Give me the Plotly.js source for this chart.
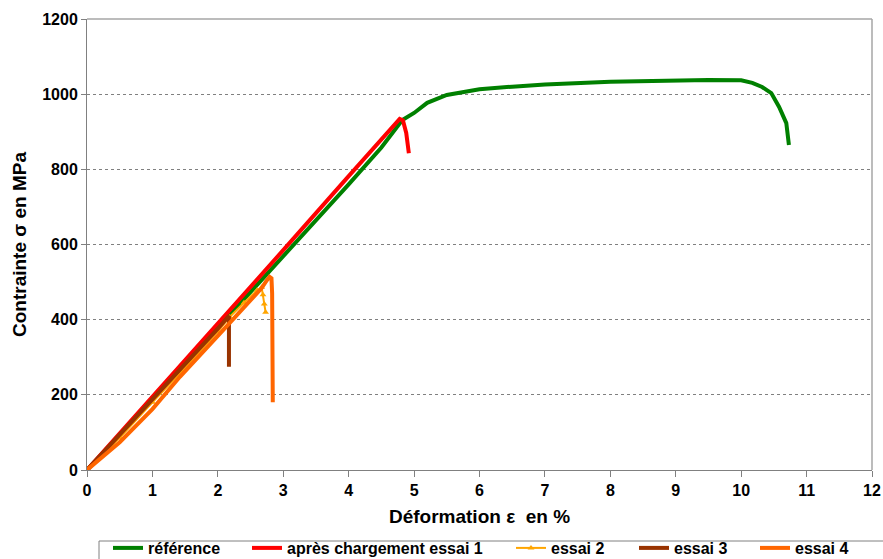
<!DOCTYPE html>
<html>
<head>
<meta charset="utf-8">
<script src="https://cdn.plot.ly/plotly-3.0.1.min.js"></script>
<style>html,body{margin:0;padding:0;background:#fff;}#chart{width:883px;height:559px;}</style>
</head>
<body>
<div id="chart"></div>
<script>
// Strain (%) and stress (MPa)
const refX   = [0, 0.5, 1, 2, 3, 4, 4.5, 4.82, 5.0, 5.2, 5.5, 5.8, 6.0, 6.5, 7.0, 8.0, 9.0, 9.5, 10.0, 10.17, 10.32, 10.46, 10.58, 10.69, 10.73];
const refY   = [0, 92, 186, 378, 568, 760, 858, 931, 950, 977, 998, 1007, 1013, 1020, 1026, 1033, 1037, 1038, 1037, 1030, 1019, 1003, 966, 923, 865];

const essai1X = [0, 0.5, 1, 2, 3, 4, 4.5, 4.7, 4.78, 4.83, 4.88, 4.92];
const essai1Y = [0, 97, 194, 390, 585, 782, 878, 918, 934, 930, 897, 843];

const essai2X = [0, 0.5, 1, 1.5, 2, 2.18, 2.4, 2.6, 2.67, 2.69, 2.71, 2.73];
const essai2Y = [0, 86, 180, 272, 368, 407, 445, 478, 486, 466, 442, 420];

const essai3X = [0, 0.24, 0.5, 1, 1.42, 2, 2.17, 2.17];
const essai3Y = [0, 45, 92, 186, 266, 376, 410, 275];

const essai4X = [0, 0.2, 0.4, 0.5, 1, 1.42, 2, 2.5, 2.67, 2.75, 2.79, 2.82, 2.83, 2.84];
const essai4Y = [0, 31, 62, 74, 162, 248, 357, 452, 484, 505, 514, 510, 470, 180];

const names  = ["référence", "après chargement essai 1", "essai 2", "essai 3", "essai 4"];
const colors = ["#008000", "#FF0000", "#FFA500", "#993300", "#FF6600"];

const X_TICKS = [0,1,2,3,4,5,6,7,8,9,10,11,12];
const Y_TICKS = [0,200,400,600,800,1000,1200];

const FONT = "Liberation Sans, Arial, sans-serif";
const W = 883, H = 559;

// legend text start pixels (x) for each entry
const legTextPix = [148, 287, 551, 674, 795];
const legBoxTop = 541;
const legItemsTop = 531;
const plotL = 87, plotW = 785;
const legendKeys = ["legend", "legend2", "legend3", "legend4", "legend5"];

const data = [
  {x: refX, y: refY, name: names[0], mode: "lines", line: {color: colors[0], width: 4}, legend: legendKeys[0]},
  {x: essai1X, y: essai1Y, name: names[1], mode: "lines", line: {color: colors[1], width: 4}, legend: legendKeys[1]},
  {x: essai2X, y: essai2Y, name: names[2], mode: "lines+markers", line: {color: colors[2], width: 2}, marker: {symbol: "triangle-up", size: 6, color: colors[2]}, legend: legendKeys[2]},
  {x: essai3X, y: essai3Y, name: names[3], mode: "lines", line: {color: colors[3], width: 4}, legend: legendKeys[3]},
  {x: essai4X, y: essai4Y, name: names[4], mode: "lines", line: {color: colors[4], width: 4}, legend: legendKeys[4]}
];

const layout = {
  width: W, height: H,
  margin: {l: plotL, r: 11, t: 19, b: 89},
  paper_bgcolor: "#ffffff", plot_bgcolor: "#ffffff",
  font: {family: FONT, size: 16, color: "#000"},
  showlegend: true,
  xaxis: {
    range: [0, 12], tickvals: X_TICKS, ticktext: X_TICKS.map(String),
    ticks: "outside", ticklen: 6, tickcolor: "#808080", tickwidth: 1,
    showline: true, linecolor: "#808080", linewidth: 1,
    showgrid: false, zeroline: false,
    tickfont: {family: FONT, size: 16, color: "#000", weight: "bold"},
    title: {text: "Déformation ε \u00a0en %", standoff: 11, font: {family: FONT, size: 19, color: "#000", weight: "bold"}}
  },
  yaxis: {
    range: [0, 1200], tickvals: Y_TICKS, ticktext: Y_TICKS.map(String),
    ticks: "outside", ticklen: 5, tickcolor: "#808080", tickwidth: 1,
    showline: true, linecolor: "#808080", linewidth: 1,
    showgrid: true, gridcolor: "#808080", gridwidth: 1, griddash: "dot",
    zeroline: false,
    tickfont: {family: FONT, size: 16, color: "#000", weight: "bold"},
    title: {text: "Contrainte σ en MPa", standoff: 10, font: {family: FONT, size: 19, color: "#000", weight: "bold"}}
  },
  shapes: [
    {type: "line", xref: "paper", yref: "paper", x0: 0, x1: 1, y0: 1, y1: 1, line: {color: "#a6a6a6", width: 1.5}},
    {type: "line", xref: "paper", yref: "paper", x0: 1, x1: 1, y0: 0, y1: 1, line: {color: "#a6a6a6", width: 1.5}},
    {type: "rect", xref: "paper", yref: "paper", x0: (99 - plotL) / plotW, x1: 1.05, y0: (470 - legBoxTop) / 451, y1: -0.3, line: {color: "#808080", width: 1}, fillcolor: "rgba(0,0,0,0)"}
  ]
};

legendKeys.forEach((k, i) => {
  layout[k] = {
    xref: "container", yref: "container",
    x: (legTextPix[i] - 40) / W, xanchor: "left",
    y: 1 - legItemsTop / H, yanchor: "top",
    orientation: "h", bgcolor: "rgba(0,0,0,0)", borderwidth: 0,
    font: {family: FONT, size: 16, color: "#000", weight: "bold"},
    itemwidth: 30
  };
});

Plotly.newPlot("chart", data, layout, {staticPlot: true});
</script>
</body>
</html>
